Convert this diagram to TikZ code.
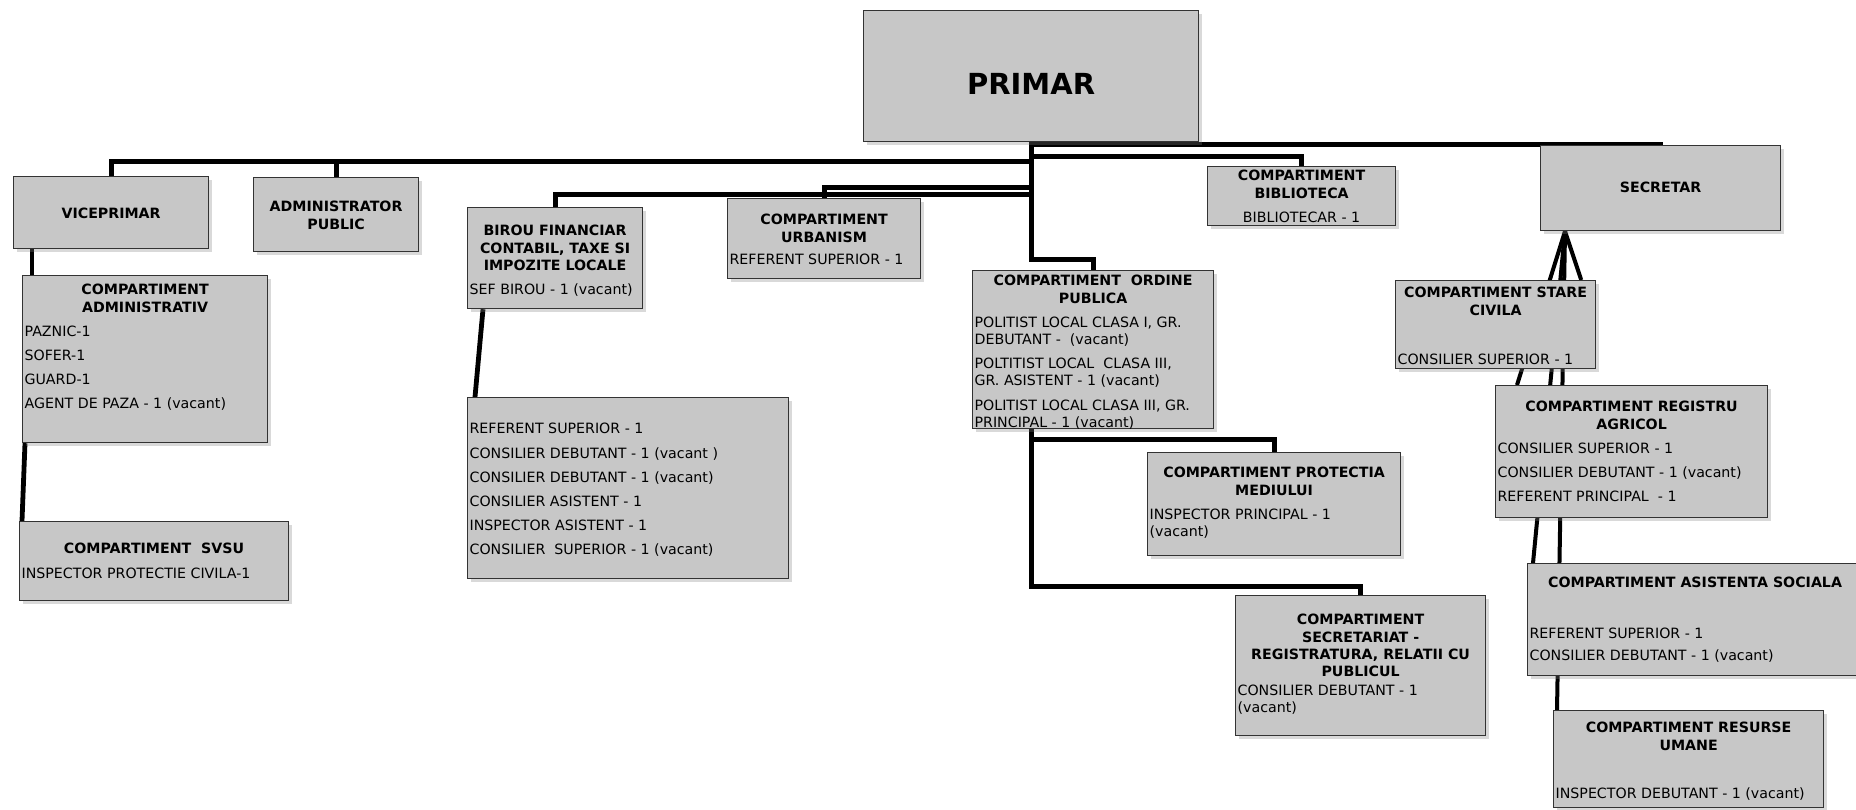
\documentclass[tikz,border=0pt]{standalone}
\usepackage{fontspec}
\setmainfont{DejaVu Sans}
\usetikzlibrary{calc,shadows,backgrounds}
\newcommand\bx[3]{\parbox[c][#2pt][t]{#1pt}{\setlength\parskip{0pt}\setlength\parindent{0pt}\hfuzz=60pt\hbadness=10000\vbadness=10000 #3}}
\newcommand\ttl[1]{{\centering\bfseries #1\par}}
\newcommand\itm[1]{\vspace{3.5pt}\mbox{#1}\par}
\newcommand\itmm[2]{\vspace{3.5pt}\mbox{#1}\\\mbox{#2}\par}
\begin{document}
\begin{tikzpicture}[x=0.5pt,y=-0.5pt,
  obox/.style={draw=black!80, line width=0.6pt, fill=black!22, inner xsep=1pt, inner ysep=0pt,
    anchor=north west, drop shadow={shadow xshift=1.5pt,shadow yshift=-1.5pt,opacity=0.3},
    font=\fontsize{7.1}{8.6}\selectfont},
  bus/.style={line width=2.4pt, black},
  fan/.style={line width=2pt, black}]
\useasboundingbox (0,0) rectangle (1856,809);

\node[obox] (primar) at (863,10) {\bx{165.5}{65.5}{\vspace{31.2pt}\ttl{\fontsize{14.5}{17}\selectfont PRIMAR}}};
\node[obox] (vice) at (13,176) {\bx{95.5}{36}{\vspace{15.9pt}\ttl{VICEPRIMAR}}};
\node[obox] (adm) at (253,177) {\bx{80.5}{37}{\vspace{11.9pt}\ttl{ADMINISTRATOR\\PUBLIC}}};
\node[obox] (cadm) at (22,275) {\bx{120.5}{83.5}{\vspace{4.4pt}\ttl{COMPARTIMENT\\ADMINISTRATIV}\itm{PAZNIC-1}\itm{SOFER-1}\itm{GUARD-1}\itm{AGENT DE PAZA - 1 (vacant)}}};
\node[obox] (svsu) at (19,521) {\bx{132.5}{39.5}{\vspace{10.9pt}\ttl{COMPARTIMENT\ \ SVSU}\itm{INSPECTOR PROTECTIE CIVILA-1}}};
\node[obox] (birou) at (467,207) {\bx{85.5}{50.5}{\vspace{8.9pt}\ttl{BIROU FINANCIAR\\CONTABIL, TAXE SI\\IMPOZITE LOCALE}\itm{SEF BIROU - 1 (vacant)}}};
\node[obox] (urb) at (727,198) {\bx{94.5}{40}{\vspace{7.9pt}\ttl{COMPARTIMENT\\URBANISM}\vspace{-1pt}\itm{REFERENT SUPERIOR - 1}}};
\node[obox] (birdet) at (467,397) {\bx{158.5}{90.5}{\vspace{9.4pt}\itm{REFERENT SUPERIOR - 1}\itm{CONSILIER DEBUTANT - 1 (vacant )}\itm{CONSILIER DEBUTANT - 1 (vacant)}\itm{CONSILIER ASISTENT - 1}\itm{INSPECTOR ASISTENT - 1}\itm{CONSILIER\ \ SUPERIOR - 1 (vacant)}}};
\node[obox] (bib) at (1207,166) {\bx{92}{29.5}{\vspace{1.9pt}\ttl{COMPARTIMENT\\BIBLIOTECA}\vspace{3.5pt}{\centering BIBLIOTECAR - 1\par}}};
\node[obox] (ord) at (972,270) {\bx{118.5}{79}{\vspace{2.4pt}\ttl{COMPARTIMENT\ \ ORDINE\\PUBLICA}\itmm{POLITIST LOCAL CLASA I, GR.}{DEBUTANT -\ \ (vacant)}\itmm{POLTITIST LOCAL\ \ CLASA III,}{GR. ASISTENT - 1 (vacant)}\itmm{POLITIST LOCAL CLASA III, GR.}{PRINCIPAL - 1 (vacant)}}};
\node[obox] (prot) at (1147,452) {\bx{124.5}{51.5}{\vspace{7.4pt}\ttl{COMPARTIMENT PROTECTIA\\MEDIULUI}\itmm{INSPECTOR PRINCIPAL - 1}{(vacant)}}};
\node[obox] (secr) at (1235,595) {\bx{123}{70}{\vspace{9.4pt}\ttl{COMPARTIMENT\\SECRETARIAT -\\REGISTRATURA, RELATII CU\\PUBLICUL}\vspace{-2.5pt}\itmm{CONSILIER DEBUTANT - 1}{(vacant)}}};
\node[obox] (sec) at (1540,145) {\bx{118}{42.5}{\vspace{18.4pt}\ttl{SECRETAR}}};
\node[obox] (stare) at (1395,280) {\bx{98}{44}{\vspace{3.4pt}\ttl{COMPARTIMENT STARE\\CIVILA}\vspace{12.5pt}\itm{CONSILIER SUPERIOR - 1}}};
\node[obox] (reg) at (1495,385) {\bx{134}{66}{\vspace{7.9pt}\ttl{COMPARTIMENT REGISTRU\\AGRICOL}\itm{CONSILIER SUPERIOR - 1}\itm{CONSILIER DEBUTANT - 1 (vacant)}\itm{REFERENT PRINCIPAL\ \ - 1}}};
\node[obox] (asi) at (1527,563) {\bx{165.5}{56}{\vspace{6.9pt}\ttl{COMPARTIMENT ASISTENTA SOCIALA}\vspace{13pt}\itm{REFERENT SUPERIOR - 1}\vspace{-1pt}\itm{CONSILIER DEBUTANT - 1 (vacant)}}};
\node[obox] (res) at (1553,710) {\bx{133}{48.5}{\vspace{5.9pt}\ttl{COMPARTIMENT RESURSE\\UMANE}\vspace{12.3pt}\itm{INSPECTOR DEBUTANT - 1 (vacant)}}};

\begin{scope}[on background layer]
\draw[bus] (primar.south) -- ++(0,19) -| (vice.north);
\draw[bus] (primar.south) -- ++(0,19) -| (adm.north);
\draw[bus] (primar.south) -- ++(0,52) -| (birou.north);
\draw[bus] (primar.south) -- ++(0,45) -| (urb.north);
\draw[bus] (primar.south) -- ++(0,14) -| (bib.north);
\draw[bus] (primar.south) -- ++(0,2) -| (sec.north);
\draw[bus] (primar.south) -- ++(0,117) -| (ord.north);
\draw[bus] (primar.south |- ord.south) -- ++(0,10) -| (prot.north);
\draw[bus] (primar.south |- ord.south) -- ++(0,157) -| (secr.north);
\draw[bus] ($(vice.south west)+(19,0)$) -- ($(cadm.north west)+(10,0)$);
\draw[bus] ($(cadm.south west)+(3,0)$) -- ($(svsu.north west)+(3,0)$);
\draw[bus] ($(birou.south west)+(16,0)$) -- ($(birdet.north west)+(8,0)$);
\coordinate (apex) at ($(sec.south west)+(25,0)$);
\draw[fan] (apex) -- ($(stare.north east)+(-15,0)$);
\draw[fan] (apex) -- ($(reg.north west)+(22,0)$);
\draw[fan] (apex) -- ($(asi.north west)+(6,0)$);
\draw[fan] (apex) -- ($(res.north west)+(4,0)$);
\end{scope}
\end{tikzpicture}
\end{document}
